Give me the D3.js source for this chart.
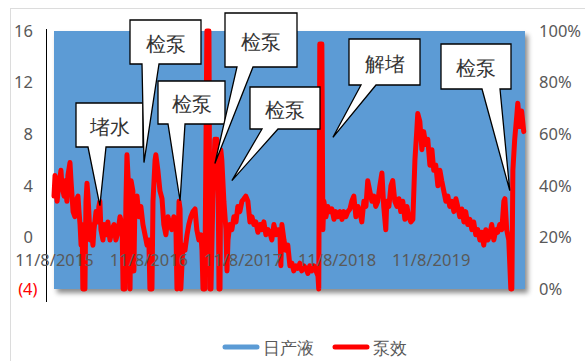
<!DOCTYPE html>
<html>
<head>
<meta charset="utf-8">
<script src="https://cdn.jsdelivr.net/npm/d3@7"></script>
<style>
body{margin:0;background:#fff;}
.canvas{width:585px;height:361px;}
text{font-family:"Noto Sans",sans-serif;}
</style>
</head>
<body>
<div class="canvas" id="canvas"></div>
<script>
// data
var startDate = '2015-11-08';
var totalDays = 1827;
var dateTicks = ['2015-11-08','2016-11-08','2017-11-08','2018-11-08','2019-11-08'];
var leftTicks = [-4,0,4,8,12,16];
var rightTicks = [0,20,40,60,80,100];
var seriesNames = ['日产液','泵效'];

// 日产液 is above the top of the axis all the time
var liquidDays = [0,365,731,1096,1461,1827];
var liquidVals = [24,22,21,23,25,24];

// 泵效 (%), day offsets from startDate
var pumpDays = [0,4,12,16,23,27,31,39,43,50,54,62,66,70,74,81,85,93,97,101,105,109,112,120,124,128,132,136,140,143,151,155,163,171,174,178,182,190,194,202,209,217,225,233,240,248,256,264,268,275,279,283,287,291,295,299,306,310,314,322,330,337,345,353,361,368,372,380,384,392,395,403,411,419,426,434,442,450,457,465,473,477,485,489,492,500,508,516,523,531,539,547,554,562,570,574,578,585,593,601,605,609,616,624,632,636,640,644,647,651,659,667,671,675,682,690,698,706,713,721,729,737,744,752,760,768,775,783,791,799,806,814,822,830,837,845,853,861,868,876,880,884,892,899,907,915,923,930,938,946,954,961,969,977,985,992,1000,1008,1016,1024,1027,1031,1039,1043,1047,1055,1062,1070,1078,1086,1093,1101,1109,1117,1124,1132,1140,1148,1155,1163,1171,1179,1186,1194,1202,1210,1217,1225,1233,1241,1248,1256,1264,1272,1279,1287,1291,1299,1307,1314,1322,1330,1338,1345,1353,1361,1369,1376,1384,1392,1400,1407,1411,1419,1427,1434,1442,1450,1458,1466,1473,1481,1489,1497,1504,1512,1520,1528,1535,1543,1551,1559,1566,1574,1582,1590,1597,1605,1613,1621,1628,1636,1644,1652,1659,1667,1675,1683,1690,1698,1706,1714,1721,1729,1737,1745,1749,1756,1764,1772,1776,1780,1787,1795,1799,1807,1814,1822];
var pumpEff = [36,44,34,38,43,46,40,36,42,34,44,49,42,36,30,28,34,36,30,25,17,25,0,0,34,41,36,28,19,25,17,23,30,26,32,34,23,19,25,21,26,19,23,25,19,22,28,25,0,0,34,52,44,38,0,42,38,7,34,36,28,32,25,21,17,19,0,0,34,50,52,46,38,35,25,21,28,25,23,28,23,0,34,31,0,17,15,21,25,28,30,31,23,19,21,15,0,0,100,100,0,0,34,58,58,50,0,0,54,50,34,23,7,19,25,23,28,26,32,30,34,35,36,34,26,28,25,26,22,25,23,26,21,23,22,19,25,21,23,23,9,25,19,15,17,9,10,7,9,8,10,7,9,8,6,9,7,9,7,5,0,95,95,23,34,28,32,30,31,27,30,28,30,27,30,28,30,31,34,36,28,32,30,26,34,32,42,38,34,36,32,34,40,45,32,23,34,32,40,42,34,32,35,30,34,27,32,28,26,27,50,61,68,65,54,61,56,58,48,54,46,48,40,46,42,38,34,36,32,34,30,35,32,28,31,26,30,25,27,23,26,21,23,19,22,17,23,19,21,25,19,23,22,25,23,34,35,23,19,0,0,46,58,67,72,63,69,61];

// callouts: text and where the pointer tip lands (day, %)
var calloutText = ['堵水','检泵','检泵','检泵','检泵','解堵','检泵'];
var calloutDay = [178,349,489,624,690,1082,1768];
var calloutPct = [32.3,49,34.2,48.6,42,58.8,38.1];

// layout of callout boxes: [x0, y0, x1, y1, pointer base left, pointer base right]
var boxes = [
    [76,103,143,147,88,106],
    [130,20,201,64,142,159],
    [158,81,225,124,168,185],
    [225,13,297,67,237,253],
    [250,87,320,129,262,278],
    [349,39,420,85,361,376],
    [441,44,511,89,482,500]
];

var W = 585, H = 361;
var plotL = 54, plotR = 525, plotT = 31, plotB = 289;
var numFont = '"Noto Sans", sans-serif';

var parse = d3.timeParse('%Y-%m-%d');
var t0 = parse(startDate);
function dayToDate(d){ return d3.timeDay.offset(t0, d); }

var svg = d3.select('.canvas')
    .append('svg')
    .attr('width', W)
    .attr('height', H);

// chart border
svg.append('rect')
    .attr('x', 10.5).attr('y', 8.5)
    .attr('width', 600).attr('height', 400)
    .attr('fill', '#fff')
    .attr('stroke', '#dcdcdc');

var defs = svg.append('defs');
defs.append('clipPath').attr('id', 'plotClip')
    .append('rect')
    .attr('x', plotL).attr('y', plotT)
    .attr('width', plotR - plotL).attr('height', plotB - plotT);
var f = defs.append('filter').attr('id', 'shadow')
    .attr('x', '-10%').attr('y', '-10%').attr('width', '130%').attr('height', '130%');
f.append('feDropShadow')
    .attr('dx', 3).attr('dy', 4)
    .attr('stdDeviation', 2.5)
    .attr('flood-color', '#000')
    .attr('flood-opacity', 0.45);

var x = d3.scaleTime()
    .domain([t0, dayToDate(totalDays)])
    .range([plotL, plotR]);
var yL = d3.scaleLinear().domain([-4, 16]).range([plotB, plotT]);
var yR = d3.scaleLinear().domain([0, 100]).range([plotB, plotT]);

// 日产液 area
var liquid = liquidDays.map(function(d, i){ return {date: dayToDate(d), v: liquidVals[i]}; });
var area = d3.area()
    .x(function(d){ return x(d.date); })
    .y0(yL(-4))
    .y1(function(d){ return yL(d.v); });
svg.append('g')
    .attr('filter', 'url(#shadow)')
    .append('path')
    .datum(liquid)
    .attr('clip-path', 'url(#plotClip)')
    .attr('fill', '#5b9bd5')
    .attr('d', area);

// 泵效 line
var pump = pumpDays.map(function(d, i){ return {date: dayToDate(d), v: pumpEff[i]}; });
var line = d3.line()
    .x(function(d){ return x(d.date); })
    .y(function(d){ return yR(d.v); });
svg.append('path')
    .datum(pump)
    .attr('fill', 'none')
    .attr('stroke', '#ff0000')
    .attr('stroke-width', 5)
    .attr('stroke-linejoin', 'round')
    .attr('stroke-linecap', 'round')
    .attr('d', line);

// left axis
svg.append('line')
    .attr('x1', 46.5).attr('x2', 46.5)
    .attr('y1', 29).attr('y2', 302)
    .attr('stroke', '#000').attr('stroke-width', 1);

var gL = svg.append('g')
    .attr('transform', 'translate(46,0)')
    .call(d3.axisLeft(yL)
        .tickValues(leftTicks)
        .tickSize(0)
        .tickPadding(13)
        .tickFormat(function(d){ return d < 0 ? '(' + (-d) + ')' : d; }));
gL.select('.domain').remove();
gL.selectAll('text')
    .attr('font-size', 16.5)
    .attr('font-family', numFont)
    .attr('fill', function(d){ return d < 0 ? '#ff0000' : '#595959'; })
    .attr('dx', function(d){ return d < 0 ? 4.5 : 0; });

// right axis
var gR = svg.append('g')
    .attr('transform', 'translate(539,0)')
    .call(d3.axisRight(yR)
        .tickValues(rightTicks)
        .tickSize(0)
        .tickPadding(0)
        .tickFormat(function(d){ return d + '%'; }));
gR.select('.domain').remove();
gR.selectAll('text')
    .attr('font-size', 16.5)
    .attr('font-family', numFont)
    .attr('fill', '#595959');

// date axis, crossing at 0
var gX = svg.append('g')
    .attr('transform', 'translate(0,' + yL(0) + ')')
    .call(d3.axisBottom(x)
        .tickValues(dateTicks.map(parse))
        .tickSize(0)
        .tickPadding(17)
        .tickFormat(d3.timeFormat('%-m/%-d/%Y')));
gX.select('.domain').remove();
gX.selectAll('text')
    .attr('font-size', 16.5)
    .attr('font-family', numFont)
    .attr('fill', '#595959');

// callouts
var callouts = svg.append('g').selectAll('g')
    .data(calloutText)
    .enter()
    .append('g');

callouts.append('path')
    .attr('fill', '#fff')
    .attr('stroke', '#000')
    .attr('stroke-width', 1.3)
    .attr('stroke-linejoin', 'miter')
    .attr('d', function(d, i){
        var b = boxes[i];
        var tx = x(dayToDate(calloutDay[i])), ty = yR(calloutPct[i]);
        return 'M' + b[0] + ',' + b[1] + 'H' + b[2] + 'V' + b[3] +
            'H' + b[5] + 'L' + tx + ',' + ty + 'L' + b[4] + ',' + b[3] +
            'H' + b[0] + 'Z';
    });

callouts.append('text')
    .attr('x', function(d, i){ return (boxes[i][0] + boxes[i][2]) / 2; })
    .attr('y', function(d, i){ return (boxes[i][1] + boxes[i][3]) / 2 + 1; })
    .attr('text-anchor', 'middle')
    .attr('dominant-baseline', 'central')
    .attr('font-size', 20)
    .attr('font-family', '"Noto Sans CJK SC", sans-serif')
    .attr('fill', '#333')
    .text(function(d){ return d; });

// legend
var legendX = [223, 333];
var legendColors = ['#5b9bd5', '#ff0000'];
var leg = svg.append('g').selectAll('g')
    .data(seriesNames)
    .enter()
    .append('g')
    .attr('transform', function(d, i){ return 'translate(' + legendX[i] + ',347)'; });
leg.append('line')
    .attr('x1', 2).attr('x2', 34)
    .attr('stroke', function(d, i){ return legendColors[i]; })
    .attr('stroke-width', 5)
    .attr('stroke-linecap', 'round');
leg.append('text')
    .attr('x', 40)
    .attr('dominant-baseline', 'central')
    .attr('font-size', 17)
    .attr('font-family', '"Noto Sans CJK SC", sans-serif')
    .attr('fill', '#595959')
    .text(function(d){ return d; });
</script>
</body>
</html>
